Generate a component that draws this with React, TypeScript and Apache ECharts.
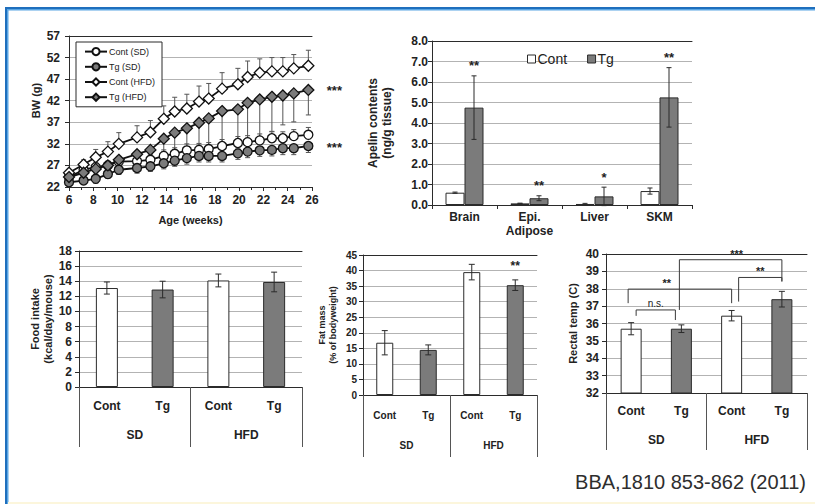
import React, { useEffect, useRef } from "react";
import * as echarts from "echarts";

const FONT = "'Liberation Sans', Arial, sans-serif";
const DARK = "#2b2b2b";
const GRIDC = "#b3b3b3";
const TG_GRAY = "#7b7b7b";
const TXT = "#222222";

// ---------- Panel 1: body weight ----------
const weeks = [6, 7.2, 8.2, 9.2, 10.1, 11.6, 12.7, 13.8, 14.7, 15.7, 16.7, 17.5, 18.6, 19.9, 20.7, 21.7, 22.7, 23.6, 24.5, 25.7];
const contSD = [24.3, 26.0, 26.6, 27.0, 27.9, 28.0, 28.3, 29.2, 29.7, 30.5, 30.6, 30.8, 31.5, 32.2, 32.4, 32.8, 33.3, 33.3, 33.8, 34.1];
const contSDErr = [0.6, 0.8, 1.0, 1.0, 1.2, 1.3, 1.3, 1.4, 1.4, 1.5, 1.5, 1.5, 1.5, 1.5, 1.5, 1.5, 1.5, 1.5, 1.5, 1.7];
const tgSD = [23.1, 23.5, 23.9, 25.0, 26.0, 26.4, 26.8, 27.5, 28.1, 28.7, 29.2, 29.2, 29.2, 29.8, 30.2, 30.5, 30.6, 31.0, 31.0, 31.5];
const tgSDErr = [0.5, 0.8, 1.0, 1.0, 1.1, 1.2, 1.2, 1.3, 1.3, 1.4, 1.4, 1.4, 1.4, 1.4, 1.4, 1.4, 1.4, 1.5, 1.5, 1.5];
const contHFD = [25.3, 27.2, 28.9, 30.2, 32.0, 33.5, 34.7, 37.8, 39.5, 40.2, 41.8, 42.5, 44.8, 45.8, 47.5, 48.5, 48.8, 48.8, 49.5, 50.1];
const contHFDErr = [0.5, 1.1, 1.8, 2.3, 2.6, 2.7, 2.7, 3.0, 3.3, 3.3, 3.6, 3.5, 3.7, 3.7, 3.7, 3.2, 3.2, 3.2, 3.2, 3.6];
const tgHFD = [24.3, 25.3, 26.2, 27.0, 28.3, 29.6, 30.6, 33.2, 34.6, 35.6, 36.9, 37.9, 39.6, 40.0, 41.5, 42.3, 42.9, 43.2, 43.7, 44.5];
const tgHFDErr = [0.5, 0.8, 1.2, 1.2, 1.5, 1.8, 2.2, 3.0, 4.0, 4.5, 5.2, 7.0, 11.0, 9.0, 8.2, 9.5, 8.0, 6.8, 6.6, 5.8];
const bwSig = ["***", "***"];
const bwLegend = ["Cont (SD)", "Tg (SD)", "Cont (HFD)", "Tg (HFD)"];

// ---------- Panel 2: apelin contents ----------
const apelinCats = ["Brain", "Epi.\nAdipose", "Liver", "SKM"];
const apelinCont = [0.6, 0.08, 0.05, 0.68];
const apelinContErr = [0.03, 0.01, 0.03, 0.15];
const apelinTg = [4.75, 0.33, 0.42, 5.25];
const apelinTgErr = [1.55, 0.12, 0.45, 1.45];
const apelinSig = ["**", "**", "*", "**"];

// ---------- Panels 3-5: diet groups ----------
const dietCats = ["Cont", "Tg", "Cont", "Tg"];
const dietGroups = ["SD", "HFD"];
const foodVals = [13.1, 12.9, 14.1, 13.9];
const foodErr = [0.8, 1.1, 0.85, 1.3];
const fatVals = [16.8, 14.5, 39.5, 35.3];
const fatErr = [3.9, 1.6, 2.5, 1.7];
const fatSig = ["", "", "", "**"];
const tempVals = [35.7, 35.7, 36.45, 37.4];
const tempErr = [0.35, 0.22, 0.3, 0.45];
const bracketFrom = [0, 0, 1, 2];
const bracketTo = [1, 2, 3, 3];
const bracketY = [36.78, 37.98, 39.67, 38.65];
const bracketLeftEnd = [36.44, 37.17, 36.78, 37.26];
const bracketRightEnd = [36.2, 37.17, 38.42, 38.42];
const bracketLabel = ["n.s.", "**", "***", "**"];

const citation = "BBA,1810 853-862 (2011)";

const idx = (arr: any[]) => arr.map((_, i) => i);

function errSeries(xAxisIndex: number, yAxisIndex: number, xs: number[], vals: number[], lo: number[], hi: number[], offset: number, cap: number, color: string, lw: number, z: number) {
  return {
    type: "custom",
    xAxisIndex,
    yAxisIndex,
    z,
    silent: true,
    data: xs.map((x, i) => [x, vals[i], lo[i], hi[i]]),
    renderItem: (params: any, api: any) => {
      const x = api.value(0);
      const y = api.value(1);
      const l = api.value(2);
      const h = api.value(3);
      const top = api.coord([x, y + h]);
      const bot = api.coord([x, y - l]);
      const cx = top[0] + offset;
      const st = { stroke: color, lineWidth: lw };
      const ch: any[] = [{ type: "line", shape: { x1: cx, y1: top[1], x2: cx, y2: bot[1] }, style: st }];
      if (h > 0) ch.push({ type: "line", shape: { x1: cx - cap, y1: top[1], x2: cx + cap, y2: top[1] }, style: st });
      if (l > 0) ch.push({ type: "line", shape: { x1: cx - cap, y1: bot[1], x2: cx + cap, y2: bot[1] }, style: st });
      return { type: "group", children: ch };
    },
  };
}

function textSeries(xAxisIndex: number, yAxisIndex: number, pts: number[][], labels: string[], dx: number, dy: number, size: number) {
  return {
    type: "custom",
    xAxisIndex,
    yAxisIndex,
    z: 6,
    silent: true,
    clip: false,
    data: pts,
    renderItem: (params: any, api: any) => {
      const p = api.coord([api.value(0), api.value(1)]);
      return {
        type: "text",
        x: p[0] + dx,
        y: p[1] + dy,
        style: {
          text: labels[params.dataIndex],
          fill: TXT,
          font: `bold ${size}px ${FONT}`,
          align: "center",
          verticalAlign: "middle",
        },
      };
    },
  };
}

function yAx(gridIndex: number, min: number, max: number, interval: number, fontSize: number, margin: number, name: string, nameSize: number, nameGap: number, fmt?: any, namePad?: number[]) {
  return {
    type: "value",
    gridIndex,
    min,
    max,
    interval,
    axisLine: { show: true, lineStyle: { color: DARK, width: 1 } },
    axisTick: { show: true, length: 4, lineStyle: { color: DARK } },
    axisLabel: { color: TXT, fontSize, fontFamily: FONT, fontWeight: "bold", margin, formatter: fmt },
    splitLine: { show: true, lineStyle: { color: GRIDC, width: 1 } },
    name,
    nameLocation: "middle",
    nameRotate: 90,
    nameGap,
    nameTextStyle: { fontWeight: "bold", fontSize: nameSize, fontFamily: FONT, color: TXT, lineHeight: nameSize + 2, padding: namePad || 0 },
  };
}

function topAx(gridIndex: number) {
  return {
    type: "value",
    gridIndex,
    position: "top",
    min: 0,
    max: 1,
    axisLine: { show: true, onZero: false, lineStyle: { color: DARK, width: 1 } },
    axisTick: { show: false },
    axisLabel: { show: false },
    splitLine: { show: false },
  };
}

function catAx(gridIndex: number, data: string[], fontSize: number, margin: number, showTick: boolean) {
  return {
    type: "category",
    gridIndex,
    position: "bottom",
    data,
    axisLine: { show: true, onZero: false, lineStyle: { color: DARK, width: 1 } },
    axisTick: { show: showTick, length: 4, lineStyle: { color: DARK } },
    axisLabel: { color: TXT, fontSize, fontFamily: FONT, fontWeight: "bold", margin, interval: 0, lineHeight: fontSize + 2 },
    splitLine: { show: false },
  };
}

function groupAx(gridIndex: number, fontSize: number, margin: number, tickLen: number) {
  return {
    type: "category",
    gridIndex,
    position: "bottom",
    offset: 0,
    data: dietGroups,
    axisLine: { show: false, onZero: false },
    axisTick: { show: true, length: tickLen, lineStyle: { color: "#555", width: 1 } },
    axisLabel: { color: TXT, fontSize, fontFamily: FONT, fontWeight: "bold", margin, interval: 0 },
    splitLine: { show: false },
  };
}

function dietBars(xAxisIndex: number, yAxisIndex: number, name: string, vals: number[], barWidth: number) {
  return {
    type: "bar",
    name,
    xAxisIndex,
    yAxisIndex,
    barWidth,
    z: 2,
    data: vals.map((v, i) => ({ value: v, itemStyle: { color: i % 2 === 0 ? "#ffffff" : TG_GRAY } })),
    itemStyle: { borderColor: DARK, borderWidth: 1 },
  };
}

function lineSeries(name: string, ys: number[], symbol: string, size: number, fill: string) {
  return {
    type: "line",
    name,
    xAxisIndex: 0,
    yAxisIndex: 0,
    z: 3,
    data: weeks.map((w, i) => [w, ys[i]]),
    symbol,
    symbolSize: size,
    showAllSymbol: true,
    lineStyle: { color: "#111", width: 1.8 },
    itemStyle: { color: fill, borderColor: "#111", borderWidth: 1.3 },
  };
}

export default function App() {
  const ref = useRef<HTMLDivElement>(null);
  useEffect(() => {
    if (!ref.current) return;
    const chart = echarts.init(ref.current, undefined, { renderer: "svg" });
    const last = weeks.length - 1;
    const option: any = {
      animation: false,
      backgroundColor: "#ffffff",
      textStyle: { fontFamily: FONT },
      grid: [
        { left: 69, top: 36, width: 243, height: 151 },
        { left: 432, top: 41, width: 260, height: 164 },
        { left: 79, top: 251, width: 223, height: 136 },
        { left: 363, top: 255, width: 174, height: 140 },
        { left: 606, top: 254, width: 201, height: 139 },
      ],
      legend: [
        {
          data: bwLegend,
          orient: "vertical",
          left: 76,
          top: 42,
          padding: [5, 7, 5, 8],
          itemGap: 6,
          itemWidth: 22,
          itemHeight: 9,
          borderColor: DARK,
          borderWidth: 1,
          backgroundColor: "#fff",
          textStyle: { fontSize: 9, color: TXT, fontFamily: FONT, padding: [0, 0, 0, -3] },
        },
        {
          data: ["Cont", "Tg"],
          orient: "horizontal",
          left: 522,
          top: 47,
          itemGap: 20,
          itemWidth: 8,
          itemHeight: 8,
          icon: "rect",
          itemStyle: { borderColor: DARK, borderWidth: 1 },
          textStyle: { fontSize: 14, color: TXT, fontFamily: FONT, padding: [0, 0, 0, -3] },
        },
      ],
      xAxis: [
        {
          type: "value",
          gridIndex: 0,
          position: "bottom",
          min: 6,
          max: 26,
          interval: 2,
          axisLine: { show: true, onZero: false, lineStyle: { color: DARK, width: 1 } },
          axisTick: { show: true, length: 4, lineStyle: { color: DARK } },
          minorTick: { show: true, splitNumber: 2, length: 3, lineStyle: { color: DARK } },
          axisLabel: { color: TXT, fontSize: 12, fontFamily: FONT, fontWeight: "bold", margin: 7 },
          splitLine: { show: false },
          name: "Age (weeks)",
          nameLocation: "middle",
          nameGap: 27,
          nameTextStyle: { fontWeight: "bold", fontSize: 11, fontFamily: FONT, color: TXT },
        },
        topAx(0),
        catAx(1, apelinCats, 12, 5, true),
        topAx(1),
        catAx(2, dietCats, 12, 12, false),
        groupAx(2, 12, 42, 60),
        topAx(2),
        catAx(3, dietCats, 10, 14, false),
        groupAx(3, 10, 45, 62),
        topAx(3),
        catAx(4, dietCats, 12, 11, false),
        groupAx(4, 12, 41, 57),
        topAx(4),
      ],
      yAxis: [
        yAx(0, 22, 57, 5, 12, 9, "BW (g)", 11, 26, undefined, [0, 0, 0, 22]),
        yAx(1, 0, 8, 1, 12, 4, "Apelin contents\n(ng/g tissue)", 12, 38, (v: number) => v.toFixed(1)),
        yAx(2, 0, 18, 2, 12, 7, "Food intake\n(kcal/day/mouse)", 11, 20),
        yAx(3, 0, 45, 5, 10, 6, "Fat mass\n(% of bodyweight)", 9, 25),
        yAx(4, 32, 40, 1, 12, 7, "Rectal temp (C)", 11, 27),
      ],
      series: [
        // panel 1
        errSeries(0, 0, weeks, contSD, contSD.map(() => 0), contSDErr, 0, 2.5, "#555", 1, 1),
        errSeries(0, 0, weeks, tgSD, tgSDErr, tgSD.map(() => 0), 0, 2.5, "#555", 1, 1),
        errSeries(0, 0, weeks, contHFD, contHFD.map(() => 0), contHFDErr, 0, 2.5, "#555", 1, 1),
        errSeries(0, 0, weeks, tgHFD, tgHFDErr, tgHFD.map(() => 0), 0, 2.5, "#555", 1, 1),
        lineSeries(bwLegend[0], contSD, "circle", 9, "#ffffff"),
        lineSeries(bwLegend[1], tgSD, "circle", 9, TG_GRAY),
        lineSeries(bwLegend[2], contHFD, "diamond", 11, "#ffffff"),
        lineSeries(bwLegend[3], tgHFD, "diamond", 11, TG_GRAY),
        textSeries(0, 0, [[weeks[last], tgHFD[last]], [weeks[last], tgSD[last]]], bwSig, 26, 1, 13),
        // panel 2
        {
          type: "bar",
          name: "Cont",
          xAxisIndex: 2,
          yAxisIndex: 1,
          barWidth: 19,
          barGap: "0%",
          data: apelinCont,
          itemStyle: { color: "#ffffff", borderColor: DARK, borderWidth: 1 },
        },
        {
          type: "bar",
          name: "Tg",
          xAxisIndex: 2,
          yAxisIndex: 1,
          barWidth: 19,
          barGap: "0%",
          data: apelinTg,
          itemStyle: { color: TG_GRAY, borderColor: DARK, borderWidth: 1 },
        },
        errSeries(2, 1, idx(apelinCats), apelinCont, apelinContErr, apelinContErr, -9.5, 2.5, DARK, 1, 4),
        errSeries(2, 1, idx(apelinCats), apelinTg, apelinTgErr, apelinTgErr, 9.5, 2.5, DARK, 1, 4),
        textSeries(2, 1, idx(apelinCats).map((i) => [i, apelinTg[i] + apelinTgErr[i]]), apelinSig, 9.5, -10, 13),
        // panel 3
        dietBars(4, 2, "Food intake", foodVals, 22),
        errSeries(4, 2, idx(dietCats), foodVals, foodErr, foodErr, 0, 3, DARK, 1, 4),
        // panel 4
        dietBars(7, 3, "Fat mass", fatVals, 17),
        errSeries(7, 3, idx(dietCats), fatVals, fatErr, fatErr, 0, 3, DARK, 1, 4),
        textSeries(7, 3, idx(dietCats).map((i) => [i, fatVals[i] + fatErr[i]]), fatSig, 0, -14, 12),
        // panel 5
        dietBars(10, 4, "Rectal temp", tempVals, 21),
        errSeries(10, 4, idx(dietCats), tempVals, tempErr, tempErr, 0, 3, DARK, 1, 4),
        {
          type: "custom",
          xAxisIndex: 10,
          yAxisIndex: 4,
          z: 6,
          silent: true,
          clip: false,
          encode: { x: 0, y: 2 },
          data: bracketFrom.map((f, i) => [f, bracketTo[i], bracketY[i], bracketLeftEnd[i], bracketRightEnd[i]]),
          renderItem: (params: any, api: any) => {
            const i = params.dataIndex;
            const legShift = [[5, -6], [-3, 0], [-2, 0], [7, 0]][i];
            const textShift = [0, -13, 6, 0][i];
            const a = api.coord([api.value(0), api.value(2)]);
            const b = api.coord([api.value(1), api.value(2)]);
            const la = api.coord([api.value(0), api.value(3)]);
            const rb = api.coord([api.value(1), api.value(4)]);
            const x1 = a[0] + legShift[0];
            const x2 = b[0] + legShift[1];
            const lab = bracketLabel[i];
            return {
              type: "group",
              children: [
                {
                  type: "polyline",
                  shape: { points: [[x1, la[1]], [x1, a[1]], [x2, a[1]], [x2, rb[1]]] },
                  style: { stroke: "#3a3a3a", lineWidth: 1, fill: null },
                },
                {
                  type: "text",
                  x: (x1 + x2) / 2 + textShift,
                  y: a[1] - 6,
                  style: {
                    text: lab,
                    fill: TXT,
                    font: lab === "n.s." ? `10px ${FONT}` : `bold 11px ${FONT}`,
                    align: "center",
                    verticalAlign: "middle",
                  },
                },
              ],
            };
          },
        },
      ],
      graphic: [
        { type: "rect", shape: { x: 5, y: 7, width: 810, height: 2 }, style: { fill: "#1f6fbd" }, silent: true },
        { type: "rect", shape: { x: 5, y: 9, width: 810, height: 1.5 }, style: { fill: "#5aa6e4" }, silent: true },
        { type: "rect", shape: { x: 5, y: 7, width: 2, height: 497 }, style: { fill: "#1f6fbd" }, silent: true },
        { type: "rect", shape: { x: 7, y: 9, width: 1.5, height: 495 }, style: { fill: "#5aa6e4" }, silent: true },
        { type: "rect", shape: { x: 8, y: 502, width: 807, height: 2 }, style: { fill: "#fcf6dc" }, silent: true },
        {
          type: "text",
          x: 806,
          y: 482,
          style: {
            text: citation,
            fill: "#2e2e2e",
            font: `20px ${FONT}`,
            align: "right",
            verticalAlign: "middle",
          },
          silent: true,
        },
      ],
    };
    chart.setOption(option);
    return () => chart.dispose();
  }, []);
  return (
    <div style={{ position: "absolute", left: 0, top: 0, width: 815, height: 504, background: "#fff" }}>
      <div ref={ref} style={{ width: 815, height: 504 }} />
    </div>
  );
}
